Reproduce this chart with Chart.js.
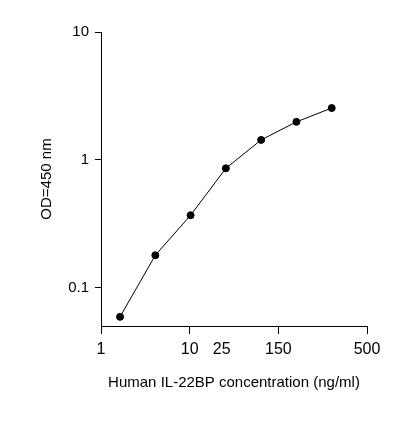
<!DOCTYPE html>
<html>
<head>
<script src="https://cdn.jsdelivr.net/npm/chart.js@4/dist/chart.umd.min.js"></script>
<style>body{margin:0;background:#fff}</style>
</head>
<body>
<canvas id="c" width="418" height="426"></canvas>
<script>
const concentrations = [1.64, 4.1, 10.24, 25.6, 64, 160, 400];
const odValues = [0.059, 0.179, 0.368, 0.857, 1.43, 1.98, 2.54];
const xTickValues = [1, 10, 23, 100, 1000];
const xTickLabels = ['1', '10', '25', '150', '500'];
const yTickValues = [0.1, 1, 10];
const yTickLabels = ['0.1', '1', '10'];

const font = 'Liberation Sans, Arial, sans-serif';

new Chart(document.getElementById('c').getContext('2d'), {
    type: 'line',
    data: {
        datasets: [{
            data: concentrations.map((x, i) => ({x: x, y: odValues[i]})),
            borderColor: '#000',
            borderWidth: 1,
            backgroundColor: '#000',
            pointRadius: 3.5,
            pointHoverRadius: 3.5,
            tension: 0
        }]
    },
    options: {
        responsive: false,
        animation: false,
        layout: {padding: {top: 32, right: 51, left: 34, bottom: 30}},
        plugins: {legend: {display: false}, tooltip: {enabled: false}},
        scales: {
            x: {
                type: 'logarithmic',
                min: 1,
                max: 1000,
                afterBuildTicks: s => { s.ticks = xTickValues.map(v => ({value: v})); },
                afterFit: s => { s.height = 70; },
                ticks: {
                    autoSkip: false,
                    maxRotation: 0,
                    color: '#000',
                    font: {family: font, size: 16},
                    padding: 6,
                    callback: (v, i) => xTickLabels[i]
                },
                grid: {
                    drawOnChartArea: false,
                    tickLength: 8,
                    color: ctx => ctx.tick && ctx.tick.value === 23 ? 'rgba(0,0,0,0)' : '#000'
                },
                border: {color: '#000', width: 1},
                title: {
                    display: true,
                    text: 'Human IL-22BP concentration (ng/ml)',
                    color: '#000',
                    font: {family: font, size: 15},
                    padding: {top: 12}
                }
            },
            y: {
                type: 'logarithmic',
                min: 0.05,
                max: 10,
                afterBuildTicks: s => { s.ticks = yTickValues.map(v => ({value: v})); },
                afterFit: s => { s.width = 67; },
                ticks: {
                    autoSkip: false,
                    color: '#000',
                    font: {family: font, size: 15},
                    padding: 6,
                    callback: (v, i) => yTickLabels[i]
                },
                grid: {drawOnChartArea: false, tickLength: 6, color: '#000'},
                border: {color: '#000', width: 1},
                title: {
                    display: true,
                    text: 'OD=450 nm',
                    color: '#000',
                    font: {family: font, size: 15},
                    padding: {bottom: 4}
                }
            }
        }
    }
});
</script>
</body>
</html>
